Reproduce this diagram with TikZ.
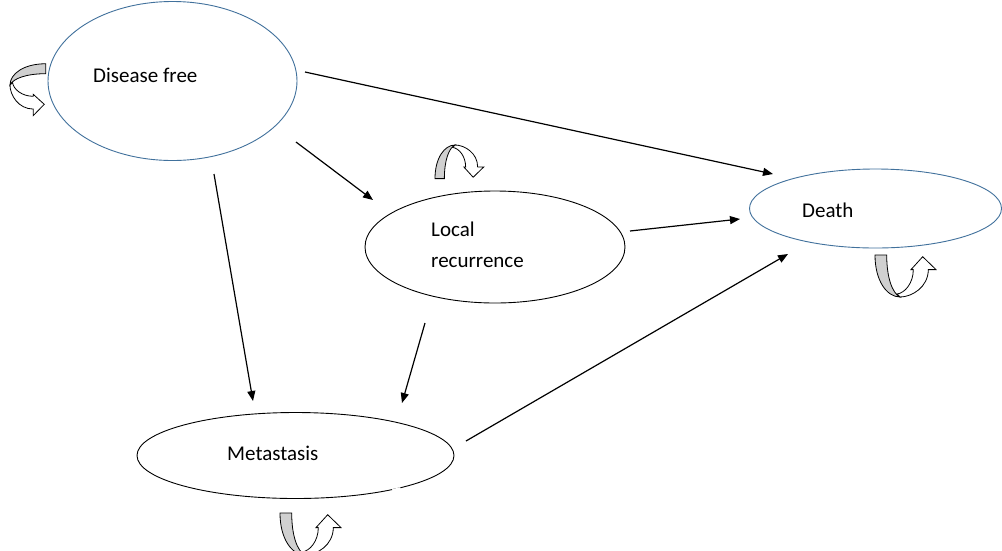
\documentclass[tikz,border=0pt]{standalone}
\usepackage{fontspec}
\setmainfont{Carlito}
\usetikzlibrary{shapes.geometric,arrows.meta}
\definecolor{ellblue}{RGB}{65,113,156}
\definecolor{bandgray}{RGB}{208,208,208}
\tikzset{
  stateblue/.style={draw=ellblue, line width=0.9pt, ellipse, inner sep=0pt},
  stateblack/.style={draw=black, line width=0.9pt, ellipse, inner sep=0pt},
  lbl/.style={anchor=base west, inner sep=0pt, font=\fontsize{21pt}{25pt}\selectfont},
  conn/.style={line width=1.2pt, -{Triangle[length=10pt,width=8pt]}},
  uarrow/.pic={
    \filldraw[fill=white, draw=black, line width=0.8pt]
      (-3,-3) .. controls (5,-4) and (13.3,-14) .. (13.3,-27.4)
      -- (11,-27.4) -- (22.7,-40.3) -- (36,-27.4) -- (28.3,-27.4)
      .. controls (28.3,-10) and (12,0) .. (0,0) -- cycle;
    \filldraw[fill=bandgray, draw=black, line width=0.8pt]
      (-25,-42) .. controls (-25,-16) and (-13,0) .. (0,0)
      .. controls (-8,-4) and (-13.3,-20) .. (-13.3,-42) -- cycle;
  }
}
\begin{document}
\begin{tikzpicture}[x=1pt,y=-1pt]
\useasboundingbox[fill=white] (0,0) rectangle (1002,550);
% states
\node[stateblue, minimum width=249pt, minimum height=159pt] (df) at (172.5,81) {};
\node[stateblack, minimum width=260pt, minimum height=112pt] (lr) at (495,247) {};
\node[stateblue, minimum width=252pt, minimum height=79pt] (de) at (875.5,208.5) {};
\node[stateblack, minimum width=317pt, minimum height=86pt] (me) at (295.5,455.5) {};
\draw[white, line width=3pt] (392.5,490.6) -- (400.5,488.6);
% labels
\node[lbl] (tdf) at (93,82) {Disease free};
\node[lbl] (tlr1) at (431,236) {Local};
\node[lbl] (tlr2) at (431,267) {recurrence};
\node[lbl] (tde) at (802,217) {Death};
\node[lbl] (tme) at (227,460) {Metastasis};
% connector end points
\coordinate (a1s) at (305,72);  \coordinate (a1e) at (773,174);
\coordinate (a2s) at (296,142); \coordinate (a2e) at (373,200);
\coordinate (a3s) at (214,174); \coordinate (a3e) at (253,401);
\coordinate (a4s) at (630,231); \coordinate (a4e) at (740,219);
\coordinate (a5s) at (425,323); \coordinate (a5e) at (402,403);
\coordinate (a6s) at (466,441); \coordinate (a6e) at (788,254);
\draw[conn] (a1s) -- (a1e);
\draw[conn] (a2s) -- (a2e);
\draw[conn] (a3s) -- (a3e);
\draw[conn] (a4s) -- (a4e);
\draw[conn] (a5s) -- (a5e);
\draw[conn] (a6s) -- (a6e);
% self loops
\pic[rotate=-90, scale=0.85] at (10,85) {uarrow};
\pic[xscale=0.8, yscale=-0.8] at (455,145) {uarrow};
\pic at (900,297) {uarrow};
\pic at (305,555) {uarrow};
\end{tikzpicture}
\end{document}
